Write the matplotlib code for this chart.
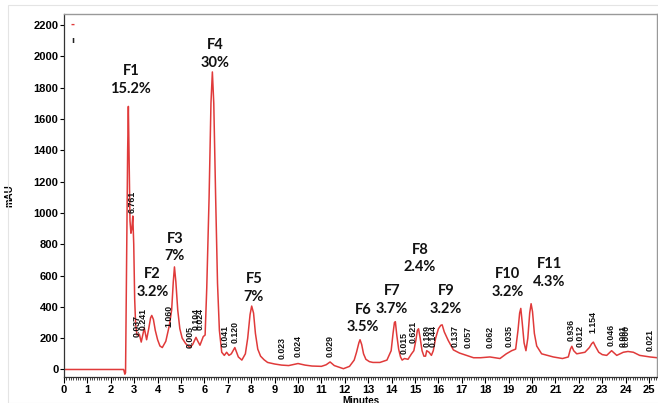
import matplotlib
matplotlib.use("Agg")
import matplotlib.pyplot as plt
from matplotlib.ticker import MultipleLocator
from matplotlib.patches import Rectangle

# Chromatogram trace (minutes, mAU)
time_min = [0, 2.55, 2.6, 2.63, 2.68, 2.72, 2.75, 2.78, 2.82, 2.86, 2.9, 2.94, 2.98, 3.02, 3.06,
            3.12, 3.22, 3.3, 3.43, 3.53, 3.62, 3.7, 3.75, 3.82, 3.9, 4.0, 4.1, 4.2, 4.35, 4.5,
            4.6, 4.67, 4.72, 4.78, 4.86, 4.95, 5.05, 5.2, 5.38, 5.5, 5.64, 5.72, 5.81, 5.95,
            6.03, 6.1, 6.2, 6.28, 6.34, 6.4, 6.48, 6.56, 6.64, 6.74, 6.85, 6.95, 7.05, 7.15,
            7.3, 7.45, 7.6, 7.75, 7.85, 7.95, 8.02, 8.1, 8.18, 8.28, 8.4, 8.55, 8.7, 9.0, 9.3,
            9.6, 10.0, 10.3, 10.6, 11.0, 11.2, 11.37, 11.55, 11.94, 12.2, 12.4, 12.5, 12.6, 12.65,
            12.72, 12.8, 12.9, 13.05, 13.2, 13.5, 13.8, 13.98, 14.06, 14.12, 14.16, 14.22, 14.3,
            14.38, 14.45, 14.55, 14.7, 14.85, 14.95, 15.04, 15.1, 15.15, 15.22, 15.3, 15.38,
            15.45, 15.5, 15.6, 15.7, 15.78, 15.88, 16.0, 16.1, 16.16, 16.25, 16.42, 16.64, 16.9,
            17.2, 17.5, 17.8, 18.2, 18.63, 18.9, 19.13, 19.3, 19.4, 19.47, 19.52, 19.58, 19.66,
            19.74, 19.82, 19.9, 19.96, 20.02, 20.1, 20.2, 20.41, 20.91, 21.3, 21.55, 21.64, 21.7,
            21.78, 21.91, 22.26, 22.45, 22.55, 22.62, 22.7, 22.85, 23.0, 23.19, 23.4, 23.62,
            23.9, 24.1, 24.33, 24.6, 25.04, 25.35]
signal_mau = [0, 0, -30, -20, 800, 1400, 1680, 1350, 950, 870, 900, 980, 800, 450, 290,
              220, 225, 175, 265, 190, 260, 330, 345, 320, 250, 190, 150, 140, 180, 280,
              380, 560, 655, 560, 380, 260, 200, 165, 140, 160, 205, 180, 155, 210,
              220, 520, 1100, 1700, 1900, 1700, 1100, 550, 250, 110, 90, 110, 90, 100,
              140, 80, 60, 100, 200, 350, 405, 360, 230, 130, 85, 62, 45, 35, 28,
              25, 38, 28, 22, 20, 30, 48, 25, 5, 20, 60, 110, 170, 190,
              160, 100, 65, 50, 45, 45, 60, 120, 230, 300, 305, 220, 130,
              80, 60, 70, 65, 100, 120, 190, 250, 260, 200, 120, 85,
              85, 120, 110, 90, 120, 200, 260, 282, 285, 240, 185, 125, 105,
              90, 75, 75, 80, 70, 100, 120, 130, 250, 360, 390, 300, 170,
              120, 200, 360, 420, 370, 230, 150, 100, 80, 70, 80, 130, 148,
              120, 100, 110, 140, 165, 175, 150, 110, 95, 90, 120, 90,
              110, 115, 110, 90, 80, 75]

# Fraction labels
fraction_names = ["F1", "F2", "F3", "F4", "F5", "F6", "F7", "F8", "F9", "F10", "F11"]
fraction_pct = ["15.2%", "3.2%", "7%", "30%", "7%", "3.5%", "3.7%", "2.4%", "3.2%", "3.2%", "4.3%"]
fraction_t = [2.86, 3.78, 4.74, 6.45, 8.12, 12.78, 14.02, 15.21, 16.32, 18.97, 20.73]
fraction_v = [1848, 553, 777, 2014, 521, 326, 444, 707, 444, 553, 617]

# Small peak area labels
peak_text = ["6.761", "0.037", "0.241", "1.060", "0.005", "0.104", "0.024", "0.041", "0.120",
             "0.023", "0.024", "0.029", "0.015", "0.621", "0.189", "0.144", "0.137", "0.057",
             "0.062", "0.035", "0.936", "0.012", "1.154", "0.046", "0.001", "0.000", "0.021"]
peak_t = [2.93, 3.12, 3.38, 4.49, 5.41, 5.64, 5.83, 6.88, 7.31,
          9.30, 10.0, 11.37, 14.53, 14.90, 15.51, 15.77, 16.71, 17.25,
          18.2, 19.02, 21.65, 22.05, 22.61, 23.38, 23.89, 24.0, 25.04]
peak_v = [997, 205, 249, 269, 134, 249, 249, 141, 166,
          70, 77, 77, 102, 166, 141, 141, 141, 134,
          134, 141, 185, 141, 230, 153, 141, 141, 121]

y_ticks = list(range(0, 2201, 200))
x_ticks = list(range(0, 26))

fig = plt.figure(figsize=(6.58, 4.03), dpi=100)
fig.patches.append(Rectangle((8 / 658, 0), 1, 398 / 403, transform=fig.transFigure,
                             fill=False, edgecolor="#e4e4e4", lw=0.8))
ax = fig.add_axes([64 / 658, 26 / 403, (657 - 64) / 658, 363 / 403])

ax.plot(time_min, signal_mau, color="#e03a3a", lw=1.1)

ax.set_xlim(0, 25.34)
ax.set_ylim(-48, 2270)
ax.set_yticks(y_ticks)
ax.set_xticks(x_ticks)
ax.xaxis.set_minor_locator(MultipleLocator(0.1))

tick_font = dict(family="Liberation Sans", weight="bold", size=8)
ax.set_yticklabels([str(v) for v in y_ticks], **tick_font)
ax.set_xticklabels([str(v) for v in x_ticks], **tick_font)
ax.tick_params(axis="y", which="major", length=3, width=0.8, pad=1, direction="out")
ax.tick_params(axis="x", which="major", length=4, width=0.8, pad=1.5, direction="out")
ax.tick_params(axis="x", which="minor", length=2, width=0.5, direction="out")

for s in ["left", "bottom"]:
    ax.spines[s].set_color("#333333")
    ax.spines[s].set_linewidth(0.9)
for s in ["top", "right"]:
    ax.spines[s].set_color("#999999")
    ax.spines[s].set_linewidth(1.0)

ax.set_xlabel("Minutes", family="Liberation Sans", weight="bold", size=7, labelpad=1)
ax.set_ylabel("mAU", family="Liberation Sans", weight="bold", size=7, labelpad=14)

for n, p, t, v in zip(fraction_names, fraction_pct, fraction_t, fraction_v):
    ax.text(t, v, n + "\n" + p, ha="center", va="center", family="Lato",
            weight="bold", size=10.5, linespacing=1.3, color="#111111")

for s, t, v in zip(peak_text, peak_t, peak_v):
    ax.text(t, v, s, rotation=90, ha="center", va="bottom", family="Liberation Sans",
            weight="bold", size=6.3, color="#111111")

# small legend marks at top-left
ax.text(0.015, 0.985, "-", transform=ax.transAxes, color="#e03a3a", size=7,
        ha="center", va="top", weight="bold")
ax.text(0.015, 0.94, "ı", transform=ax.transAxes, color="#222222", size=6,
        ha="center", va="top", weight="bold")

fig.savefig("out.png", dpi=100)
